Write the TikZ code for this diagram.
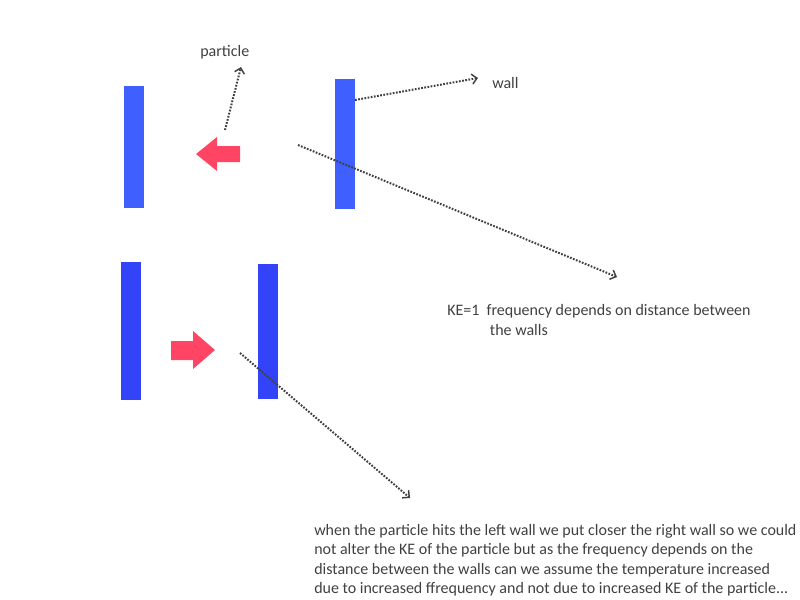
\documentclass[tikz,border=0pt]{standalone}
\usepackage{fontspec}
\setmainfont{Carlito}
\usetikzlibrary{arrows.meta}
\definecolor{wallA}{HTML}{3F60FF}
\definecolor{wallB}{HTML}{3344F8}
\definecolor{redA}{HTML}{FF4563}
\definecolor{txt}{HTML}{404040}
\tikzset{
  wall/.style={fill=#1, draw=none, inner sep=0pt, minimum width=14.5pt, rectangle},
  dotarrow/.style={draw=txt, line width=1.5pt, dash pattern=on 1.3pt off 1.1pt, line cap=butt,
    -{Straight Barb[length=3.8pt,width=7.5pt,line width=1.1pt,line cap=butt]}},
  lbl/.style={text=txt, inner sep=0pt, font=\fontsize{12pt}{14.6pt}\selectfont, align=left}
}
\begin{document}
\begin{tikzpicture}[x=0.75pt,y=-0.75pt]
\useasboundingbox (0,0) rectangle (800,600);
% walls
\node[wall=wallA, minimum height=91.5pt, anchor=north west] (w1) at (124,86) {};
\node[wall=wallA, minimum height=97.5pt, anchor=north west] (w2) at (335,79) {};
\node[wall=wallB, minimum height=103.5pt, anchor=north west] (w3) at (121,262) {};
\node[wall=wallB, minimum height=101.25pt, anchor=north west] (w4) at (258,264) {};
% particle arrows
\fill[redA] (196,154) -- (217,137) -- (217,146) -- (240,146) -- (240,162) -- (217,162) -- (217,171) -- cycle;
\fill[redA] (215,350) -- (193,331) -- (193,341) -- (171,341) -- (171,360) -- (193,360) -- (193,369) -- cycle;
% connector ends
\coordinate (p1) at (225,130);
\coordinate (p1e) at (241,67);
\coordinate (p2) at (355,100);
\coordinate (p2e) at (478,78);
\coordinate (p3) at (298,145);
\coordinate (p3e) at (617,277);
\coordinate (p4) at (240,353);
\coordinate (p4e) at (410,498);
\draw[dotarrow] (p1) -- (p1e);
\draw[dotarrow] (p2) -- (p2e);
\draw[dotarrow] (p3) -- (p3e);
\draw[dotarrow] (p4) -- (p4e);
% labels
\node[lbl, anchor=base west] (tp) at (200,56) {particle};
\node[lbl, anchor=base west] (tw) at (492,88) {wall};
\node[lbl, anchor=base west] (tke) at (447,335) {KE=1\ \ frequency depends on distance between\\\hspace*{32pt}the walls};
\node[lbl, anchor=base west] (tq) at (314,593.5) {when the particle hits the left wall we put closer the right wall so we could\\not alter the KE of the particle but as the frequency depends on the\\distance between the walls can we assume the temperature increased\\due to increased ffrequency and not due to increased KE of the particle...};
\end{tikzpicture}
\end{document}
